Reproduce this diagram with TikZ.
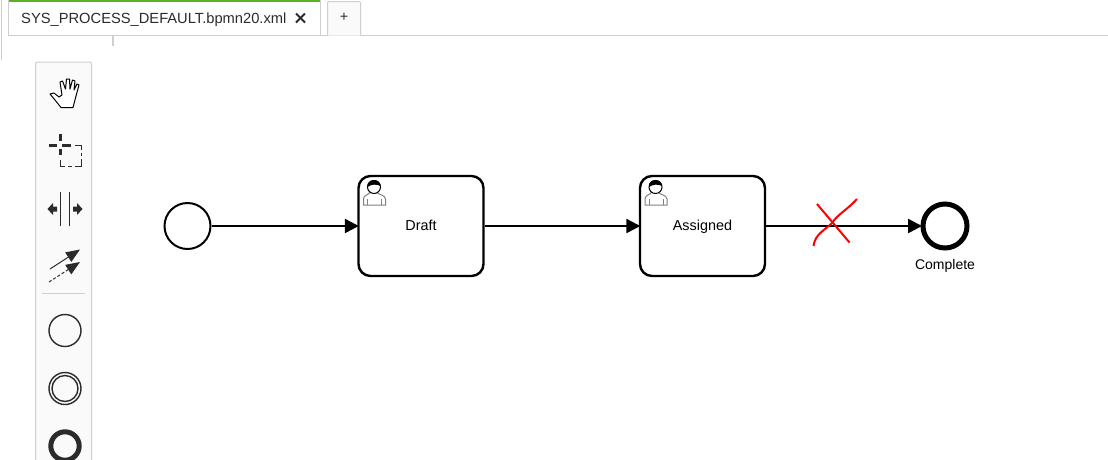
\documentclass[tikz,border=0pt]{standalone}
\usepackage{fontspec}
\setmainfont{Liberation Sans}
\usetikzlibrary{arrows.meta}
\definecolor{tabgreen}{HTML}{5CB21E}
\definecolor{panelline}{HTML}{CFCFCF}
\definecolor{paneltop}{HTML}{FAFAFA}
\definecolor{icondark}{HTML}{2B2B2B}
\tikzset{
  label text/.style={font=\fontsize{14.4}{16}\selectfont, text=black, inner sep=0pt},
  bpmn task/.style={draw=black, line width=2.4pt, rounded corners=12pt, fill=white, minimum width=125pt, minimum height=100pt, inner sep=0pt, text height=10pt, text depth=2pt},
  flow/.style={draw=black, line width=2.4pt, shorten >=-1.5pt, -{Triangle[length=14pt,width=14pt]}},
  tool circle/.style={draw=icondark, line width=1.4pt},
}
\newcommand{\usericon}[2]{
\begin{scope}[xshift=#1pt, yshift=-#2pt]
\draw[gray, line width=1pt, fill=white] (5,29) -- (5,23) .. controls (5,19) and (10,19) .. (12,16) -- (18,16) .. controls (20,19) and (27,19) .. (27,23) -- (27,29) -- cycle;
\draw[gray, line width=0.8pt] (9,29) -- (9,23);
\draw[gray, line width=0.8pt] (23,29) -- (23,23);
\draw[black, line width=1pt, fill=white] (15.5,11) circle (6.5);
\fill[black] (9,11) .. controls (8,2) and (22,2) .. (22,10) .. controls (18,8) and (13,8) .. (9,11) -- cycle;
\end{scope}
}
\begin{document}
\begin{tikzpicture}[x=1pt, y=-1pt]
\useasboundingbox (0,0) rectangle (1108,459);
\fill[white] (0,0) rectangle (1108,459);
% tab bar
\draw[panelline, line width=1pt] (1.5,0) -- (1.5,60);
\draw[panelline, line width=1pt] (8.5,35.5) -- (1108,35.5);
\draw[panelline, line width=1pt] (8.5,0) -- (8.5,35.5);
\draw[panelline, line width=1pt] (320.5,0) -- (320.5,35.5);
\fill[tabgreen] (9,0) rectangle (320,2);
\draw[panelline, line width=1pt, fill=paneltop, rounded corners=1pt] (327.5,35.5) -- (327.5,1.5) -- (360.5,1.5) -- (360.5,35.5);
\draw[panelline, line width=2pt] (112.5,36) -- (112.5,46);
\node[label text, font=\fontsize{14.7}{16}\selectfont, anchor=base west, text=icondark] (tabtitle) at (21,23) {SYS\_PROCESS\_DEFAULT.bpmn20.xml};
\node[label text, text=icondark] (tabplus) at (344,17) {+};
\draw[icondark, line width=2pt] (296,13.5) -- (305,22.5);
\draw[icondark, line width=2pt] (305,13.5) -- (296,22.5);
% palette
\draw[panelline, line width=1pt, fill=paneltop, rounded corners=2pt] (35.5,470) -- (35.5,62) -- (91.5,62) -- (91.5,470);
\draw[panelline, line width=0.8pt] (42,293.5) -- (85,293.5);
% hand
\draw[black, line width=1pt, fill=white, line join=round] (61,107.5) -- (73,107.5) -- (76,96) -- (79,85) -- (77,84) -- (74,90) -- (75,81) -- (72.5,80) -- (70,89) -- (69.5,79) -- (66.5,79) -- (65.5,89) -- (62.5,81) -- (60,82) -- (62,95) -- (59,97) -- (54,93) -- (50,94) -- (55,100) -- cycle;
% marquee
\draw[icondark, line width=3pt] (48.5,145) -- (56.5,145);
\draw[icondark, line width=3pt] (62,145) -- (71,145);
\draw[icondark, line width=3pt] (60,134) -- (60,141);
\draw[icondark, line width=3pt] (60,148.5) -- (60,155);
\draw[icondark, line width=1pt] (75,145.5) -- (81.5,145.5) -- (81.5,150);
\draw[icondark, line width=1pt] (81.5,153) -- (81.5,156);
\draw[icondark, line width=1pt] (81.5,159) -- (81.5,166) -- (75,166);
\draw[icondark, line width=1pt] (72,166) -- (68,166);
\draw[icondark, line width=1pt] (65,166) -- (60.5,166) -- (60.5,160);
% split
\draw[icondark, line width=1pt] (60.5,192) -- (60.5,226);
\draw[icondark, line width=1pt] (69.5,192) -- (69.5,226);
\fill[icondark] (47.5,209) -- (53,203) -- (53,206.5) -- (57,206.5) -- (57,211.5) -- (53,211.5) -- (53,215) -- cycle;
\fill[icondark] (82.5,209) -- (77,203) -- (77,206.5) -- (73,206.5) -- (73,211.5) -- (77,211.5) -- (77,215) -- cycle;
% connection
\draw[icondark, line width=1pt, -{Triangle[length=14pt,width=11pt]}] (50,269) -- (80,249.5);
\draw[icondark, line width=1pt, densely dashed, -{Triangle[length=14pt,width=11pt,sep=0pt]}] (49,282) -- (80,262);
% events in palette
\draw[tool circle] (65,330.5) circle (16);
\draw[tool circle] (65,388.5) circle (16);
\draw[tool circle] (65,388.5) circle (13);
\draw[icondark, line width=5pt] (65,446) circle (14.2);
% process
\node[draw=black, line width=2pt, circle, minimum size=46pt, inner sep=0pt] (start) at (187.5,226) {};
\node[bpmn task, label text] (draft) at (421,226) {Draft};
\node[bpmn task, label text] (assigned) at (702.5,226) {Assigned};
\node[draw=black, line width=5pt, circle, minimum size=44pt, inner sep=0pt] (complete) at (945,226) {};
\node[label text, font=\fontsize{14}{16}\selectfont] (completetxt) at (945,265.5) {Complete};
\usericon{358.5}{176}
\usericon{640}{176}
\draw[flow] (start) -- (draft);
\draw[flow] (draft) -- (assigned);
\draw[flow] (assigned) -- (complete);
% red cross
\draw[red, line width=2pt] (817,204) -- (849.5,242.5);
\draw[red, line width=2pt] (813.5,246) .. controls (815,234) and (825,230) .. (832,223) .. controls (838,214) and (847,210) .. (857,199);
\end{tikzpicture}
\end{document}
